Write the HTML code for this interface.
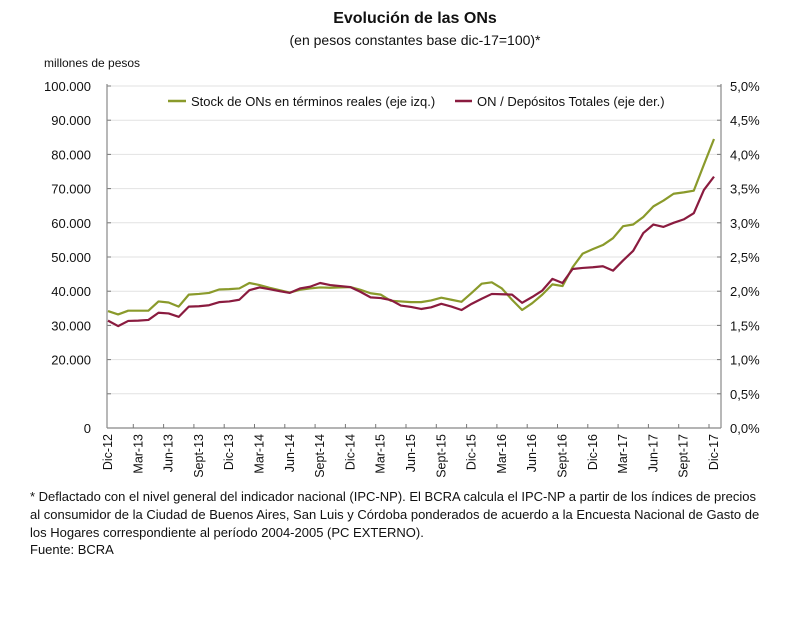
<!DOCTYPE html>
<html><head><meta charset="utf-8"><style>
body{margin:0;background:#fff;width:800px;height:639px;overflow:hidden;font-family:"Liberation Sans",sans-serif}
</style></head><body>
<svg width="800" height="639" font-family="Liberation Sans, sans-serif">
<text x="415" y="23" text-anchor="middle" font-size="16" font-weight="bold" fill="#111">Evolución de las ONs</text>
<text x="415" y="45" text-anchor="middle" font-size="14" fill="#111">(en pesos constantes base dic-17=100)*</text>
<text x="44" y="67" font-size="12" fill="#111">millones de pesos</text>
<g id="grid"></g><g id="axes"></g><g id="series"></g>
<g>
<line x1="168" y1="101" x2="186" y2="101" stroke="#8a9a2b" stroke-width="2.5"/>
<text x="191" y="106" font-size="13" fill="#111">Stock de ONs en términos reales (eje izq.)</text>
<line x1="455" y1="101" x2="472" y2="101" stroke="#8a1b3f" stroke-width="2.5"/>
<text x="477" y="106" font-size="13" fill="#111">ON / Depósitos Totales (eje der.)</text>
</g>
<g font-size="13" fill="#111">
<text x="30" y="501">* Deflactado con el nivel general del indicador nacional (IPC-NP). El BCRA calcula el IPC-NP a partir de los índices de precios</text>
<text x="30" y="519">al consumidor de la Ciudad de Buenos Aires, San Luis y Córdoba ponderados de acuerdo a la Encuesta Nacional de Gasto de</text>
<text x="30" y="537">los Hogares correspondiente al período 2004-2005 (PC EXTERNO).</text>
<text x="30" y="554">Fuente: BCRA</text>
</g>
</svg>
<script>
const quarterLabels=["Dic-12","Mar-13","Jun-13","Sept-13","Dic-13","Mar-14","Jun-14","Sept-14","Dic-14","Mar-15","Jun-15","Sept-15","Dic-15","Mar-16","Jun-16","Sept-16","Dic-16","Mar-17","Jun-17","Sept-17","Dic-17"];
const leftTicks=[0,10000,20000,30000,40000,50000,60000,70000,80000,90000,100000];
const leftTickLabels=["0","","20.000","30.000","40.000","50.000","60.000","70.000","80.000","90.000","100.000"];
const rightTicks=[0,0.5,1,1.5,2,2.5,3,3.5,4,4.5,5];
const rightTickLabels=["0,0%","0,5%","1,0%","1,5%","2,0%","2,5%","3,0%","3,5%","4,0%","4,5%","5,0%"];
const stockValues=[34.2,33.2,34.3,34.3,34.3,37.0,36.7,35.5,39.0,39.2,39.5,40.5,40.6,40.8,42.4,41.8,41.0,40.3,39.6,40.4,40.8,41.1,41.0,41.1,41.2,40.4,39.4,39.0,37.2,37.0,36.8,36.8,37.3,38.1,37.5,36.9,39.5,42.2,42.6,40.8,37.5,34.5,36.5,39.0,42.0,41.5,47.0,51.0,52.3,53.5,55.5,59.0,59.5,61.7,64.8,66.5,68.5,68.9,69.4,77.0,84.5];
const ratioValues=[1.57,1.49,1.565,1.57,1.58,1.685,1.675,1.625,1.775,1.78,1.795,1.84,1.85,1.875,2.015,2.055,2.03,2.0,1.975,2.04,2.065,2.12,2.09,2.075,2.06,1.99,1.91,1.9,1.87,1.79,1.77,1.74,1.765,1.815,1.775,1.725,1.815,1.89,1.96,1.955,1.95,1.83,1.915,2.01,2.18,2.12,2.325,2.34,2.35,2.365,2.3,2.45,2.59,2.85,2.975,2.94,3.0,3.05,3.14,3.48,3.675];
</script>
<script>
const NS="http://www.w3.org/2000/svg";
const L=107,R=721,T=86,B=428;
const n=61;
function xS(i){return 108+(714-108)*i/(n-1);}
function yL(v){return B-(B-T)*v/100000;}
function yR(v){return B-(B-T)*v/5;}
function mk(tag,attrs,parent){const e=document.createElementNS(NS,tag);for(const k in attrs)e.setAttribute(k,attrs[k]);document.getElementById(parent).appendChild(e);return e;}
leftTicks.forEach((v,i)=>{
  if(v>0){const g=mk('line',{x1:L,x2:R,y1:yL(v),y2:yL(v),stroke:'#e2e2e2','stroke-width':1},'grid');
  
  }
  const tk=mk('line',{x1:L,x2:L+4,y1:yL(v),y2:yL(v),stroke:'#777'},'axes');
  
  
  const t=mk('text',{x:91,y:yL(v)+5,'text-anchor':'end','font-size':13,fill:'#111'},'axes');
  t.textContent=leftTickLabels[i];
  
  
});
rightTicks.forEach((v,i)=>{
  const tk=mk('line',{x1:R-4,x2:R,y1:yR(v),y2:yR(v),stroke:'#777'},'axes');
  
  
  const t=mk('text',{x:730,y:yR(v)+5,'font-size':13,fill:'#111'},'axes');
  t.textContent=rightTickLabels[i];
  
  
});
[['left-axis',L,T-2,L,B],['right-axis',R,T-2,R,B],['x-axis',L,B,R,B]].forEach(a=>{
  const e=mk('line',{x1:a[1],y1:a[2],x2:a[3],y2:a[4],stroke:'#888','stroke-width':1.2},'axes');
  
  
});
quarterLabels.forEach((lab,q)=>{
  const x=xS(q*3);
  if(q>0){const tk=mk('line',{x1:x-5,x2:x-5,y1:B,y2:B-4,stroke:'#777'},'axes');
  
  }
  const t=mk('text',{x:0,y:0,'text-anchor':'end','font-size':12.5,fill:'#111',transform:`translate(${x+4},${B+6}) rotate(-90)`},'axes');
  t.textContent=lab;
  
  
});
const p1=mk('polyline',{points:stockValues.map((v,i)=>xS(i)+','+yL(v*1000)).join(' '),fill:'none',stroke:'#8a9a2b','stroke-width':2.2,'stroke-linejoin':'round'},'series');


const p2=mk('polyline',{points:ratioValues.map((v,i)=>xS(i)+','+yR(v)).join(' '),fill:'none',stroke:'#8a1b3f','stroke-width':2.2,'stroke-linejoin':'round'},'series');


</script>
</body></html>
